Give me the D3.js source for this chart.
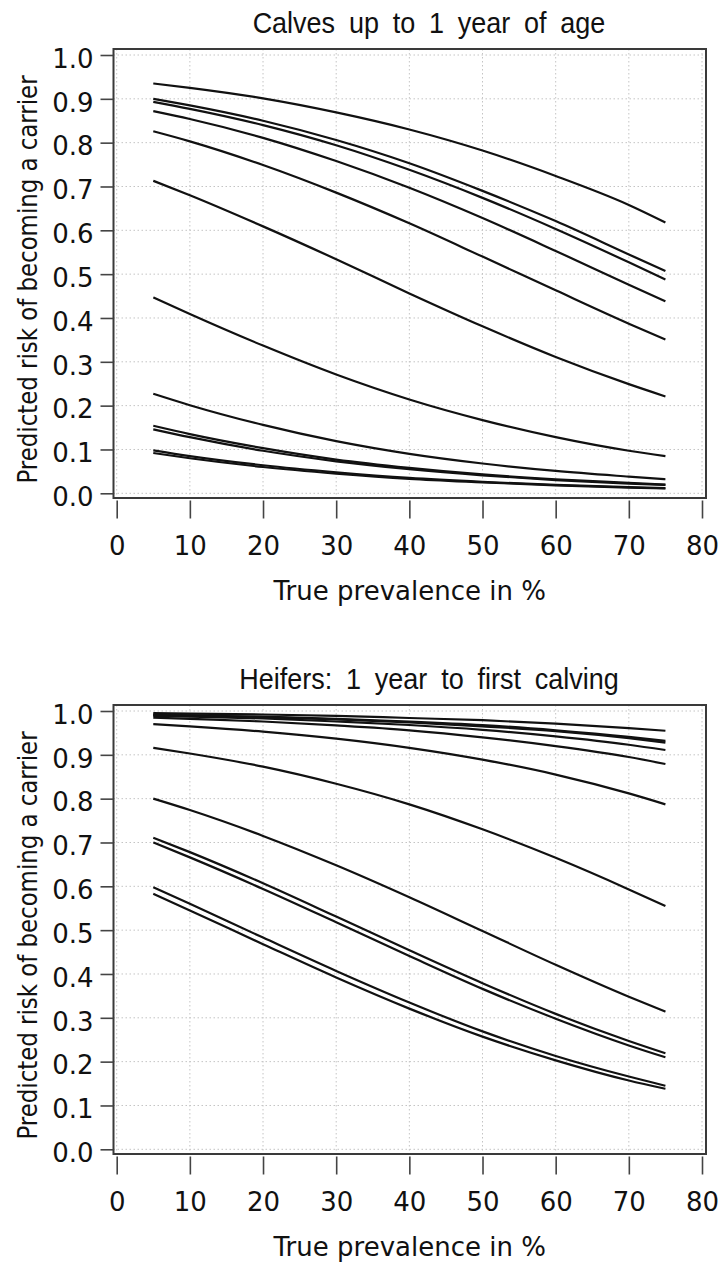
<!DOCTYPE html>
<html>
<head>
<meta charset="utf-8">
<script src="https://cdn.jsdelivr.net/npm/d3@7/dist/d3.min.js"></script>
<style>
  body { margin: 0; background: #fff; }
  .grid line { stroke: #c4c4c4; stroke-width: 1; stroke-dasharray: 1.5,2.5; }
  .frame { fill: none; stroke: #3a3a3a; stroke-width: 2; }
  .curve { fill: none; stroke: #111; stroke-width: 2.2; }
  .axis path { display: none; }
  .axis line { stroke: #444; stroke-width: 1.6; }
  .axis text, .lab { font-family: "DejaVu Sans", Verdana, sans-serif; fill: #111; }
  .title { font-family: "Liberation Sans", Arial, sans-serif; fill: #111; }
</style>
</head>
<body>
<script>
// x values shared by every curve (true prevalence, %)
var prevalence = [5, 10, 20, 30, 40, 50, 60, 70, 75];

var xTicks = [0, 10, 20, 30, 40, 50, 60, 70, 80];
var yTicks = [0, 0.1, 0.2, 0.3, 0.4, 0.5, 0.6, 0.7, 0.8, 0.9, 1.0];

// predicted risk, one row per curve
var calvesRisk = [
  [0.935, 0.925, 0.901, 0.869, 0.830, 0.782, 0.724, 0.658, 0.618],
  [0.900, 0.885, 0.850, 0.806, 0.753, 0.690, 0.621, 0.545, 0.507],
  [0.893, 0.877, 0.840, 0.794, 0.738, 0.674, 0.603, 0.527, 0.488],
  [0.872, 0.854, 0.811, 0.758, 0.697, 0.628, 0.553, 0.476, 0.438],
  [0.826, 0.803, 0.749, 0.686, 0.616, 0.540, 0.463, 0.387, 0.351],
  [0.713, 0.680, 0.609, 0.534, 0.456, 0.381, 0.311, 0.249, 0.221],
  [0.447, 0.409, 0.337, 0.271, 0.214, 0.167, 0.128, 0.097, 0.085],
  [0.227, 0.201, 0.156, 0.119, 0.090, 0.068, 0.051, 0.038, 0.032],
  [0.154, 0.135, 0.103, 0.077, 0.058, 0.043, 0.032, 0.024, 0.020],
  [0.146, 0.128, 0.097, 0.073, 0.055, 0.041, 0.030, 0.022, 0.019],
  [0.098, 0.085, 0.064, 0.048, 0.035, 0.026, 0.019, 0.014, 0.012],
  [0.092, 0.080, 0.060, 0.045, 0.033, 0.025, 0.018, 0.013, 0.011]
];

// predicted risk
var heifersRisk = [
  [0.995, 0.994, 0.992, 0.989, 0.984, 0.979, 0.971, 0.961, 0.955],
  [0.992, 0.990, 0.987, 0.982, 0.976, 0.968, 0.956, 0.941, 0.932],
  [0.991, 0.990, 0.986, 0.981, 0.974, 0.965, 0.954, 0.938, 0.928],
  [0.989, 0.987, 0.983, 0.976, 0.968, 0.957, 0.942, 0.923, 0.911],
  [0.985, 0.982, 0.976, 0.967, 0.956, 0.940, 0.920, 0.895, 0.879],
  [0.970, 0.965, 0.953, 0.937, 0.916, 0.889, 0.855, 0.812, 0.787],
  [0.916, 0.903, 0.873, 0.834, 0.787, 0.730, 0.665, 0.593, 0.555],
  [0.800, 0.774, 0.715, 0.648, 0.575, 0.498, 0.421, 0.348, 0.314],
  [0.711, 0.678, 0.607, 0.531, 0.454, 0.379, 0.309, 0.247, 0.219],
  [0.700, 0.666, 0.594, 0.518, 0.441, 0.366, 0.298, 0.237, 0.210],
  [0.598, 0.560, 0.483, 0.407, 0.335, 0.269, 0.213, 0.166, 0.145],
  [0.583, 0.545, 0.468, 0.392, 0.321, 0.257, 0.203, 0.157, 0.138]
];

var titles = ["Calves up to 1 year of age", "Heifers: 1 year to first calving"];
var xLabel = "True prevalence in %";
var yLabel = "Predicted risk of becoming a carrier";

var width = 718, height = 1262;
var panelShift = 656;   // vertical distance between the two panels

var svg = d3.select("body").append("svg")
    .attr("width", width)
    .attr("height", height);

// scales are the same for both panels, each panel is translated
var x = d3.scaleLinear().domain([0, 80]).range([116.7, 702]);
var y = d3.scaleLinear().domain([0, 1]).range([493.3, 55]);

// plot frame is a little wider than the data range (R style)
var box = {left: 113.5, right: 706, top: 49, bottom: 498};

var line = d3.line()
    .x(function(d, i) { return x(prevalence[i]); })
    .y(function(d) { return y(d); })
    .curve(d3.curveMonotoneX);

function drawPanel(title, risk, shift) {
  var g = svg.append("g").attr("transform", "translate(0," + shift + ")");

  // dotted grid
  var grid = g.append("g").attr("class", "grid");
  grid.selectAll(".gx").data(xTicks).enter().append("line")
      .attr("x1", function(d) { return x(d); })
      .attr("x2", function(d) { return x(d); })
      .attr("y1", box.top).attr("y2", box.bottom);
  grid.selectAll(".gy").data(yTicks).enter().append("line")
      .attr("y1", function(d) { return y(d); })
      .attr("y2", function(d) { return y(d); })
      .attr("x1", box.left).attr("x2", box.right);

  // curves
  g.selectAll(".curve").data(risk).enter().append("path")
      .attr("class", "curve")
      .attr("d", line);

  g.append("rect").attr("class", "frame")
      .attr("x", box.left).attr("y", box.top)
      .attr("width", box.right - box.left)
      .attr("height", box.bottom - box.top);

  // axes
  var ya = g.append("g").attr("class", "axis")
      .attr("transform", "translate(" + box.left + ",0)")
      .call(d3.axisLeft(y).tickValues(yTicks).tickSize(13).tickPadding(7)
            .tickFormat(d3.format(".1f")));
  ya.selectAll("text").attr("y", 4).style("font-size", "26px");

  var xa = g.append("g").attr("class", "axis")
      .attr("transform", "translate(0," + (box.bottom + 2.5) + ")")
      .call(d3.axisBottom(x).tickValues(xTicks).tickSize(18).tickPadding(18));
  xa.selectAll("text").style("font-size", "26px");

  // labels
  g.append("text").attr("class", "lab")
      .attr("x", (box.left + box.right) / 2).attr("y", 600)
      .attr("text-anchor", "middle").style("font-size", "26px")
      .text(xLabel);

  g.append("text").attr("class", "lab")
      .attr("transform", "translate(37," + ((box.top + box.bottom) / 2 + 6) + ") rotate(-90) scale(0.88,1)")
      .attr("text-anchor", "middle").style("font-size", "26px")
      .text(yLabel);

  g.append("text").attr("class", "title")
      .attr("transform", "translate(429,33) scale(0.9,1)")
      .attr("text-anchor", "middle")
      .style("font-size", "30px").style("word-spacing", "7px")
      .text(title);
}

drawPanel(titles[0], calvesRisk, 0);
drawPanel(titles[1], heifersRisk, panelShift);
</script>
</body>
</html>
